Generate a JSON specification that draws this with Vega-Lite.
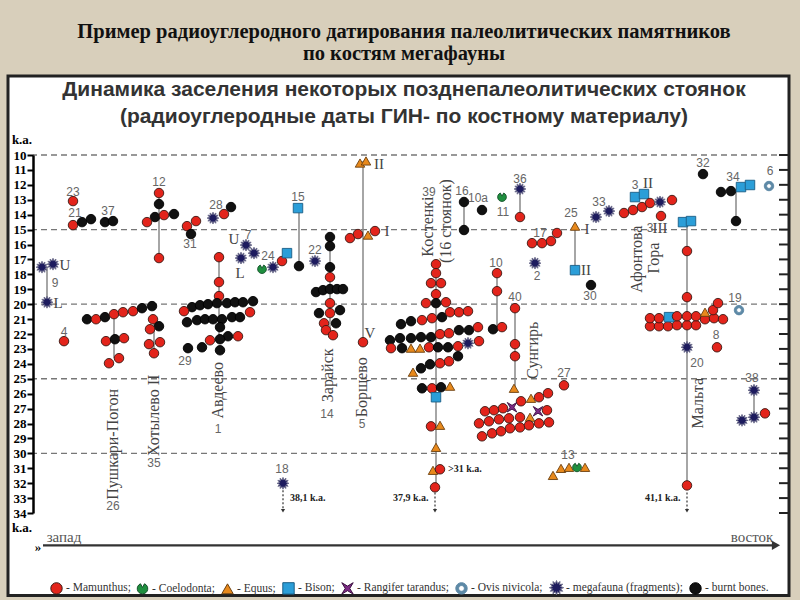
{
"$schema":"https://vega.github.io/schema/vega-lite/v6.json",
"width":754,"height":358,
"autosize":"none",
"padding":{"left":33,"top":155,"right":13,"bottom":87},
"background":"#d8cfbb",
"config":{"view":{"stroke":null}},
"title":{
"text":["Пример радиоуглеродного датирования палеолитических памятников","по костям мегафауны"],
"subtitle":["Динамика заселения некоторых позднепалеолитических стоянок","(радиоуглеродные даты ГИН- по костному материалу)"],
"anchor":"middle","orient":"top","dx":-6,
"font":"Liberation Serif","fontSize":20.5,"fontWeight":"bold","color":"#111","lineHeight":22,
"subtitleFont":"Liberation Sans","subtitleFontSize":21,"subtitleFontWeight":"bold","subtitleColor":"#333","subtitleLineHeight":27,"subtitlePadding":15,
"offset":-53
},
"datasets":{
"panel":[{"pos":8,"pos2":789,"ka":4.70,"ka2":39.53}],
"levels":[{"ka":10},{"ka":15},{"ka":20},{"ka":25},{"ka":30}],
"scaleticks":[{"ka":10},{"ka":11},{"ka":12},{"ka":13},{"ka":14},{"ka":15},{"ka":16},{"ka":17},{"ka":18},{"ka":19},{"ka":20},{"ka":21},{"ka":22},{"ka":23},{"ka":24},{"ka":25},{"ka":26},{"ka":27},{"ka":28},{"ka":29},{"ka":30},{"ka":31},{"ka":32},{"ka":33},{"ka":34}],
"links":[
{"pos":47,"ka":17.52,"ka2":19.87},{"pos":159,"ka":12.55,"ka2":16.91},{"pos":114,"ka":20.67,"ka2":23.62},
{"pos":154,"ka":21.01,"ka2":23.29},{"pos":219,"ka":16.85,"ka2":22.42},{"pos":299,"ka":13.56,"ka2":17.45},
{"pos":330,"ka":15.50,"ka2":22.08},{"pos":363,"ka":10.40,"ka2":22.55},{"pos":464,"ka":13.15,"ka2":15.03},
{"pos":520,"ka":12.28,"ka2":14.16},{"pos":575,"ka":14.77,"ka2":17.72},{"pos":436,"ka":17.32,"ka2":32.28},
{"pos":497,"ka":17.92,"ka2":21.54},{"pos":515,"ka":20.27,"ka2":25.64},{"pos":687,"ka":14.43,"ka2":32.15},
{"pos":736,"ka":12.42,"ka2":14.43},{"pos":754,"ka":25.77,"ka2":27.58}],
"older":[{"pos":283,"ka":32.48,"ka2":33.85},{"pos":435,"ka":32.62,"ka2":33.85},{"pos":687,"ka":32.62,"ka2":33.85}],
"axisline":[{"pos":43,"pos2":776,"ka":36.17}],
"points":[
{"pos":42,"ka":17.52,"taxon":"megafauna (fragments)"},{"pos":53,"ka":17.32,"taxon":"megafauna (fragments)"},{"pos":47,"ka":19.87,"taxon":"megafauna (fragments)"},
{"pos":73,"ka":13.09,"taxon":"Mamunthus"},
{"pos":73,"ka":14.70,"taxon":"Mamunthus"},{"pos":82,"ka":14.50,"taxon":"burnt bones"},{"pos":91,"ka":14.30,"taxon":"burnt bones"},
{"pos":105,"ka":14.50,"taxon":"burnt bones"},{"pos":113,"ka":14.43,"taxon":"burnt bones"},
{"pos":159,"ka":12.55,"taxon":"Mamunthus"},{"pos":159,"ka":13.29,"taxon":"burnt bones"},{"pos":155,"ka":14.16,"taxon":"burnt bones"},{"pos":147,"ka":14.50,"taxon":"Mamunthus"},{"pos":164,"ka":14.03,"taxon":"Mamunthus"},{"pos":174,"ka":13.96,"taxon":"burnt bones"},{"pos":159,"ka":16.91,"taxon":"Mamunthus"},
{"pos":187,"ka":14.77,"taxon":"Mamunthus"},{"pos":196,"ka":14.43,"taxon":"Mamunthus"},{"pos":191,"ka":15.30,"taxon":"burnt bones"},
{"pos":213,"ka":14.23,"taxon":"megafauna (fragments)"},{"pos":224,"ka":13.96,"taxon":"Mamunthus"},{"pos":231,"ka":13.49,"taxon":"burnt bones"},
{"pos":246,"ka":16.04,"taxon":"megafauna (fragments)"},{"pos":254,"ka":16.58,"taxon":"megafauna (fragments)"},{"pos":241,"ka":16.91,"taxon":"megafauna (fragments)"},
{"pos":262,"ka":17.65,"taxon":"Coelodonta"},{"pos":273,"ka":17.52,"taxon":"megafauna (fragments)"},{"pos":282,"ka":17.11,"taxon":"Mamunthus"},{"pos":287,"ka":16.58,"taxon":"Bison"},
{"pos":298,"ka":13.56,"taxon":"Bison"},{"pos":299,"ka":17.45,"taxon":"burnt bones"},
{"pos":315,"ka":17.11,"taxon":"megafauna (fragments)"},
{"pos":330,"ka":15.50,"taxon":"burnt bones"},{"pos":330,"ka":16.11,"taxon":"burnt bones"},{"pos":330,"ka":17.52,"taxon":"burnt bones"},{"pos":330,"ka":18.19,"taxon":"Mamunthus"},
{"pos":316,"ka":19.19,"taxon":"burnt bones"},{"pos":323,"ka":19.06,"taxon":"burnt bones"},{"pos":330,"ka":18.99,"taxon":"burnt bones"},{"pos":337,"ka":18.99,"taxon":"burnt bones"},{"pos":343,"ka":18.99,"taxon":"burnt bones"},
{"pos":330,"ka":19.93,"taxon":"Mamunthus"},{"pos":319,"ka":20.60,"taxon":"burnt bones"},{"pos":330,"ka":20.60,"taxon":"Mamunthus"},{"pos":340,"ka":20.40,"taxon":"burnt bones"},
{"pos":324,"ka":21.28,"taxon":"Mamunthus"},{"pos":336,"ka":21.28,"taxon":"burnt bones"},{"pos":326,"ka":21.74,"taxon":"Mamunthus"},{"pos":333,"ka":22.08,"taxon":"Mamunthus"},
{"pos":360,"ka":10.54,"taxon":"Equus"},{"pos":366,"ka":10.40,"taxon":"Equus"},{"pos":350,"ka":15.57,"taxon":"Mamunthus"},{"pos":358,"ka":15.30,"taxon":"Mamunthus"},{"pos":368,"ka":15.37,"taxon":"Equus"},{"pos":375,"ka":15.10,"taxon":"Mamunthus"},{"pos":363,"ka":22.55,"taxon":"Mamunthus"},
{"pos":283,"ka":32.01,"taxon":"megafauna (fragments)"},
{"pos":87,"ka":21.01,"taxon":"burnt bones"},{"pos":96,"ka":21.01,"taxon":"Mamunthus"},{"pos":105,"ka":20.87,"taxon":"burnt bones"},{"pos":114,"ka":20.67,"taxon":"Mamunthus"},{"pos":123,"ka":20.54,"taxon":"Mamunthus"},{"pos":133,"ka":20.47,"taxon":"Mamunthus"},{"pos":142,"ka":20.27,"taxon":"burnt bones"},{"pos":152,"ka":20.13,"taxon":"burnt bones"},
{"pos":106,"ka":22.48,"taxon":"Mamunthus"},{"pos":115,"ka":22.35,"taxon":"burnt bones"},{"pos":124,"ka":22.28,"taxon":"Mamunthus"},{"pos":109,"ka":23.96,"taxon":"Mamunthus"},{"pos":119,"ka":23.62,"taxon":"Mamunthus"},
{"pos":64,"ka":22.48,"taxon":"Mamunthus"},
{"pos":153,"ka":21.01,"taxon":"Mamunthus"},{"pos":159,"ka":21.48,"taxon":"burnt bones"},{"pos":150,"ka":21.68,"taxon":"Mamunthus"},{"pos":149,"ka":22.68,"taxon":"Mamunthus"},{"pos":160,"ka":22.55,"taxon":"Mamunthus"},{"pos":154,"ka":23.29,"taxon":"Mamunthus"},
{"pos":219,"ka":16.85,"taxon":"Mamunthus"},{"pos":219,"ka":18.52,"taxon":"Mamunthus"},{"pos":219,"ka":19.46,"taxon":"Mamunthus"},
{"pos":192,"ka":20.20,"taxon":"burnt bones"},{"pos":200,"ka":20.07,"taxon":"burnt bones"},{"pos":208,"ka":20.00,"taxon":"burnt bones"},{"pos":217,"ka":19.93,"taxon":"burnt bones"},{"pos":227,"ka":19.93,"taxon":"burnt bones"},{"pos":235,"ka":19.87,"taxon":"burnt bones"},{"pos":243,"ka":19.87,"taxon":"burnt bones"},{"pos":253,"ka":19.80,"taxon":"burnt bones"},
{"pos":184,"ka":20.47,"taxon":"Mamunthus"},{"pos":250,"ka":20.54,"taxon":"Mamunthus"},
{"pos":187,"ka":21.21,"taxon":"burnt bones"},{"pos":197,"ka":21.07,"taxon":"burnt bones"},{"pos":205,"ka":21.01,"taxon":"burnt bones"},{"pos":213,"ka":21.01,"taxon":"burnt bones"},{"pos":222,"ka":21.01,"taxon":"burnt bones"},{"pos":232,"ka":20.87,"taxon":"burnt bones"},{"pos":240,"ka":20.87,"taxon":"burnt bones"},
{"pos":220,"ka":21.54,"taxon":"burnt bones"},{"pos":228,"ka":22.15,"taxon":"burnt bones"},{"pos":238,"ka":22.15,"taxon":"Mamunthus"},{"pos":210,"ka":22.42,"taxon":"Mamunthus"},{"pos":220,"ka":22.35,"taxon":"burnt bones"},{"pos":202,"ka":22.89,"taxon":"burnt bones"},{"pos":220,"ka":23.09,"taxon":"burnt bones"},{"pos":188,"ka":22.95,"taxon":"burnt bones"},
{"pos":436,"ka":17.32,"taxon":"Mamunthus"},{"pos":436,"ka":17.92,"taxon":"Mamunthus"},{"pos":431,"ka":18.59,"taxon":"Mamunthus"},{"pos":441,"ka":18.59,"taxon":"Mamunthus"},{"pos":436,"ka":19.33,"taxon":"Mamunthus"},{"pos":426,"ka":19.93,"taxon":"Mamunthus"},{"pos":436,"ka":19.93,"taxon":"burnt bones"},{"pos":446,"ka":19.87,"taxon":"Mamunthus"},
{"pos":401,"ka":21.34,"taxon":"burnt bones"},{"pos":411,"ka":21.14,"taxon":"burnt bones"},{"pos":422,"ka":21.07,"taxon":"Mamunthus"},{"pos":432,"ka":20.94,"taxon":"Mamunthus"},{"pos":442,"ka":20.87,"taxon":"burnt bones"},{"pos":450,"ka":20.54,"taxon":"Mamunthus"},{"pos":459,"ka":20.54,"taxon":"Mamunthus"},{"pos":468,"ka":20.47,"taxon":"Mamunthus"},
{"pos":390,"ka":22.42,"taxon":"burnt bones"},{"pos":400,"ka":22.28,"taxon":"burnt bones"},{"pos":411,"ka":22.28,"taxon":"burnt bones"},{"pos":421,"ka":22.21,"taxon":"burnt bones"},{"pos":431,"ka":22.21,"taxon":"burnt bones"},{"pos":440,"ka":22.01,"taxon":"Mamunthus"},{"pos":449,"ka":21.95,"taxon":"Mamunthus"},{"pos":459,"ka":21.74,"taxon":"burnt bones"},{"pos":469,"ka":21.74,"taxon":"burnt bones"},{"pos":478,"ka":21.54,"taxon":"Mamunthus"},
{"pos":391,"ka":22.95,"taxon":"Mamunthus"},{"pos":402,"ka":22.95,"taxon":"burnt bones"},{"pos":411,"ka":22.95,"taxon":"Equus"},{"pos":420,"ka":22.95,"taxon":"Equus"},{"pos":429,"ka":22.89,"taxon":"Mamunthus"},{"pos":438,"ka":22.89,"taxon":"burnt bones"},{"pos":448,"ka":22.89,"taxon":"burnt bones"},{"pos":458,"ka":22.82,"taxon":"Mamunthus"},{"pos":468,"ka":22.62,"taxon":"megafauna (fragments)"},{"pos":479,"ka":22.48,"taxon":"Mamunthus"},
{"pos":458,"ka":23.49,"taxon":"burnt bones"},{"pos":449,"ka":23.83,"taxon":"Mamunthus"},{"pos":440,"ka":23.96,"taxon":"Mamunthus"},{"pos":430,"ka":24.03,"taxon":"burnt bones"},{"pos":421,"ka":24.30,"taxon":"burnt bones"},{"pos":413,"ka":24.56,"taxon":"Equus"},
{"pos":422,"ka":25.64,"taxon":"burnt bones"},{"pos":432,"ka":25.64,"taxon":"Mamunthus"},{"pos":441,"ka":25.57,"taxon":"burnt bones"},{"pos":450,"ka":25.50,"taxon":"Equus"},
{"pos":436,"ka":26.24,"taxon":"Bison"},
{"pos":431,"ka":28.19,"taxon":"Mamunthus"},{"pos":440,"ka":28.12,"taxon":"Equus"},{"pos":436,"ka":29.60,"taxon":"Equus"},{"pos":433,"ka":31.14,"taxon":"Equus"},{"pos":440,"ka":31.07,"taxon":"Mamunthus"},{"pos":435,"ka":32.28,"taxon":"Mamunthus"},
{"pos":464,"ka":13.15,"taxon":"burnt bones"},{"pos":464,"ka":15.03,"taxon":"burnt bones"},
{"pos":482,"ka":13.69,"taxon":"burnt bones"},
{"pos":502,"ka":12.82,"taxon":"Coelodonta"},
{"pos":520,"ka":12.28,"taxon":"megafauna (fragments)"},{"pos":520,"ka":14.16,"taxon":"Mamunthus"},
{"pos":532,"ka":15.91,"taxon":"Mamunthus"},{"pos":542,"ka":15.91,"taxon":"Mamunthus"},{"pos":551,"ka":15.77,"taxon":"Mamunthus"},{"pos":557,"ka":15.23,"taxon":"Mamunthus"},
{"pos":535,"ka":17.25,"taxon":"megafauna (fragments)"},
{"pos":575,"ka":14.77,"taxon":"Equus"},{"pos":575,"ka":17.72,"taxon":"Bison"},
{"pos":497,"ka":17.92,"taxon":"Mamunthus"},{"pos":497,"ka":19.13,"taxon":"Mamunthus"},{"pos":493,"ka":21.68,"taxon":"burnt bones"},{"pos":502,"ka":21.54,"taxon":"Mamunthus"},
{"pos":515,"ka":20.27,"taxon":"Mamunthus"},{"pos":515,"ka":22.68,"taxon":"Mamunthus"},{"pos":515,"ka":23.49,"taxon":"Mamunthus"},{"pos":514,"ka":25.64,"taxon":"Equus"},
{"pos":521,"ka":26.51,"taxon":"Mamunthus"},{"pos":531,"ka":26.31,"taxon":"Equus"},{"pos":539,"ka":26.24,"taxon":"Mamunthus"},{"pos":548,"ka":25.97,"taxon":"Mamunthus"},
{"pos":485,"ka":27.18,"taxon":"Mamunthus"},{"pos":494,"ka":27.11,"taxon":"Mamunthus"},{"pos":503,"ka":26.98,"taxon":"Mamunthus"},{"pos":512,"ka":26.91,"taxon":"Rangifer tarandus"},{"pos":538,"ka":27.18,"taxon":"Rangifer tarandus"},{"pos":547,"ka":27.11,"taxon":"Mamunthus"},
{"pos":479,"ka":27.99,"taxon":"Mamunthus"},{"pos":489,"ka":27.85,"taxon":"Mamunthus"},{"pos":499,"ka":27.72,"taxon":"Mamunthus"},{"pos":509,"ka":27.65,"taxon":"Mamunthus"},{"pos":520,"ka":27.58,"taxon":"Mamunthus"},{"pos":530,"ka":27.58,"taxon":"Equus"},
{"pos":482,"ka":28.86,"taxon":"Mamunthus"},{"pos":492,"ka":28.66,"taxon":"Mamunthus"},{"pos":501,"ka":28.52,"taxon":"Mamunthus"},{"pos":510,"ka":28.32,"taxon":"Mamunthus"},{"pos":520,"ka":28.26,"taxon":"Mamunthus"},{"pos":529,"ka":28.12,"taxon":"Mamunthus"},{"pos":539,"ka":27.99,"taxon":"Mamunthus"},{"pos":549,"ka":27.92,"taxon":"Mamunthus"},
{"pos":564,"ka":25.44,"taxon":"Mamunthus"},
{"pos":553,"ka":31.48,"taxon":"Equus"},{"pos":561,"ka":31.01,"taxon":"Equus"},{"pos":569,"ka":30.94,"taxon":"Equus"},{"pos":577,"ka":30.94,"taxon":"Coelodonta"},{"pos":585,"ka":30.94,"taxon":"Equus"},
{"pos":596,"ka":14.16,"taxon":"megafauna (fragments)"},{"pos":609,"ka":13.76,"taxon":"megafauna (fragments)"},
{"pos":635,"ka":12.82,"taxon":"Bison"},{"pos":644,"ka":12.62,"taxon":"Bison"},{"pos":624,"ka":13.89,"taxon":"Mamunthus"},{"pos":633,"ka":13.69,"taxon":"Mamunthus"},{"pos":642,"ka":13.49,"taxon":"Mamunthus"},{"pos":650,"ka":13.22,"taxon":"Mamunthus"},{"pos":660,"ka":13.15,"taxon":"megafauna (fragments)"},{"pos":672,"ka":13.02,"taxon":"Mamunthus"},{"pos":661,"ka":14.09,"taxon":"Mamunthus"},
{"pos":591,"ka":18.72,"taxon":"burnt bones"},
{"pos":683,"ka":14.50,"taxon":"Bison"},{"pos":691,"ka":14.43,"taxon":"Bison"},{"pos":687,"ka":16.44,"taxon":"Mamunthus"},{"pos":687,"ka":19.53,"taxon":"Mamunthus"},
{"pos":650,"ka":21.48,"taxon":"Mamunthus"},{"pos":659,"ka":21.48,"taxon":"Mamunthus"},{"pos":668,"ka":21.48,"taxon":"Mamunthus"},{"pos":677,"ka":21.41,"taxon":"Mamunthus"},{"pos":687,"ka":21.41,"taxon":"Mamunthus"},{"pos":696,"ka":21.41,"taxon":"Mamunthus"},
{"pos":650,"ka":20.94,"taxon":"Mamunthus"},{"pos":659,"ka":20.94,"taxon":"Mamunthus"},{"pos":669,"ka":20.87,"taxon":"Bison"},{"pos":677,"ka":20.81,"taxon":"Mamunthus"},{"pos":687,"ka":20.81,"taxon":"Mamunthus"},{"pos":696,"ka":20.81,"taxon":"Mamunthus"},{"pos":705,"ka":21.01,"taxon":"Mamunthus"},{"pos":714,"ka":20.94,"taxon":"Mamunthus"},{"pos":723,"ka":21.01,"taxon":"Mamunthus"},
{"pos":705,"ka":20.54,"taxon":"Equus"},{"pos":713,"ka":20.40,"taxon":"Mamunthus"},{"pos":718,"ka":19.93,"taxon":"Mamunthus"},
{"pos":687,"ka":22.89,"taxon":"megafauna (fragments)"},{"pos":687,"ka":32.15,"taxon":"Mamunthus"},
{"pos":717,"ka":22.89,"taxon":"Mamunthus"},
{"pos":703,"ka":11.28,"taxon":"burnt bones"},
{"pos":721,"ka":12.48,"taxon":"burnt bones"},{"pos":731,"ka":12.42,"taxon":"burnt bones"},{"pos":741,"ka":12.15,"taxon":"Bison"},{"pos":750,"ka":12.01,"taxon":"Bison"},{"pos":736,"ka":14.43,"taxon":"burnt bones"},
{"pos":769,"ka":12.08,"taxon":"Ovis nivicola"},
{"pos":739,"ka":20.40,"taxon":"Ovis nivicola"},
{"pos":754,"ka":25.77,"taxon":"megafauna (fragments)"},{"pos":754,"ka":27.58,"taxon":"megafauna (fragments)"},{"pos":742,"ka":27.79,"taxon":"megafauna (fragments)"},{"pos":765,"ka":27.32,"taxon":"Mamunthus"}
],
"labels":[
{"kind":"num","pos":73,"ka":12.48,"text":"23"},{"kind":"num","pos":75,"ka":13.89,"text":"21"},{"kind":"num","pos":108,"ka":13.76,"text":"37"},
{"kind":"num","pos":55,"ka":18.59,"text":"9"},{"kind":"num","pos":159,"ka":11.81,"text":"12"},{"kind":"num","pos":190,"ka":15.97,"text":"31"},
{"kind":"num","pos":64,"ka":21.88,"text":"4"},{"kind":"num","pos":216,"ka":13.36,"text":"28"},{"kind":"num","pos":248,"ka":15.37,"text":"7"},
{"kind":"num","pos":268,"ka":16.78,"text":"24"},{"kind":"num","pos":298,"ka":12.82,"text":"15"},{"kind":"num","pos":315,"ka":16.38,"text":"22"},
{"kind":"num","pos":185,"ka":23.83,"text":"29"},{"kind":"num","pos":113,"ka":33.56,"text":"26"},{"kind":"num","pos":154,"ka":30.67,"text":"35"},
{"kind":"num","pos":218,"ka":28.39,"text":"1"},{"kind":"num","pos":327,"ka":27.38,"text":"14"},{"kind":"num","pos":362,"ka":28.05,"text":"5"},
{"kind":"num","pos":282,"ka":31.07,"text":"18"},{"kind":"num","pos":429,"ka":12.48,"text":"39"},{"kind":"num","pos":462,"ka":12.42,"text":"16"},
{"kind":"num","pos":478,"ka":12.89,"text":"10a"},{"kind":"num","pos":503,"ka":13.83,"text":"11"},{"kind":"num","pos":520,"ka":11.61,"text":"36"},
{"kind":"num","pos":540,"ka":15.23,"text":"17"},{"kind":"num","pos":537,"ka":18.12,"text":"2"},{"kind":"num","pos":571,"ka":13.89,"text":"25"},
{"kind":"num","pos":496,"ka":17.25,"text":"10"},{"kind":"num","pos":515,"ka":19.53,"text":"40"},{"kind":"num","pos":564,"ka":24.63,"text":"27"},
{"kind":"num","pos":568,"ka":30.13,"text":"13"},{"kind":"num","pos":599,"ka":13.15,"text":"33"},{"kind":"num","pos":590,"ka":19.46,"text":"30"},
{"kind":"num","pos":703,"ka":10.54,"text":"32"},{"kind":"num","pos":733,"ka":11.48,"text":"34"},{"kind":"num","pos":770,"ka":11.07,"text":"6"},
{"kind":"num","pos":735,"ka":19.60,"text":"19"},{"kind":"num","pos":697,"ka":23.96,"text":"20"},{"kind":"num","pos":716,"ka":22.08,"text":"8"},
{"kind":"num","pos":752,"ka":24.97,"text":"38"},{"kind":"num","pos":635,"ka":12.01,"text":"3"},{"kind":"num","pos":650,"ka":14.90,"text":"3"},
{"kind":"rom","pos":65,"ka":17.38,"text":"U"},{"kind":"rom","pos":58,"ka":19.93,"text":"L"},
{"kind":"rom","pos":234,"ka":15.64,"text":"U"},{"kind":"rom","pos":240,"ka":17.92,"text":"L"},
{"kind":"rom","pos":379,"ka":10.60,"text":"II"},{"kind":"rom","pos":387,"ka":15.10,"text":"I"},{"kind":"rom","pos":370,"ka":21.95,"text":"V"},
{"kind":"rom","pos":587,"ka":14.97,"text":"I"},{"kind":"rom","pos":586,"ka":17.72,"text":"II"},
{"kind":"rom","pos":648,"ka":11.88,"text":"II"},{"kind":"rom","pos":660,"ka":14.90,"text":"III"},
{"kind":"name","pos":113,"ka":29.40,"text":"Пушкари-Погон"},{"kind":"name","pos":154,"ka":27.45,"text":"Хотылево II"},
{"kind":"name","pos":218,"ka":25.77,"text":"Авдеево"},{"kind":"name","pos":328,"ka":24.77,"text":"Зарайск"},
{"kind":"name","pos":362,"ka":25.57,"text":"Борщево"},{"kind":"name","pos":428,"ka":14.80,"text":"Костенкі"},
{"kind":"name","pos":446,"ka":14.43,"text":"(16 стоянок)"},{"kind":"name","pos":533,"ka":23.09,"text":"Сунгирь"},
{"kind":"name","pos":637,"ka":16.98,"text":"Афонтова"},{"kind":"name","pos":654,"ka":16.91,"text":"Гора"},
{"kind":"name","pos":698,"ka":26.64,"text":"Мальта"},
{"kind":"note","pos":290,"ka":33.02,"text":"38,1 k.a."},{"kind":"note","pos":448,"ka":31.07,"text":">31 k.a."},
{"kind":"note","pos":393,"ka":33.02,"text":"37,9 k.a."},{"kind":"note","pos":645,"ka":33.02,"text":"41,1 k.a."},
{"kind":"ka","pos":22,"ka":9.02,"text":"k.a."},{"kind":"ka","pos":22,"ka":35.0,"text":"k.a."},{"kind":"ka","pos":38,"ka":36.31,"text":"»"},
{"kind":"dir","pos":64,"ka":35.64,"text":"запад"},{"kind":"dir","pos":752,"ka":35.64,"text":"восток"}
]
},
"resolve":{"scale":{"y":"independent"},"axis":{"y":"independent"}},
"layer":[
{"data":{"name":"panel"},"mark":{"type":"rect","fill":"white","stroke":"#222","strokeWidth":3},
 "encoding":{"x":{"field":"pos","type":"quantitative","scale":{"domain":[33,787],"nice":false,"zero":false},"axis":null},"x2":{"field":"pos2"},
 "y":{"field":"ka","type":"quantitative","scale":{"domain":[10,34],"reverse":true,"nice":false,"zero":false},"axis":null},"y2":{"field":"ka2"}}},
{"data":{"name":"levels"},"mark":{"type":"rule","color":"#777","strokeWidth":1.3,"strokeDash":[6,4]},
 "encoding":{"y":{"field":"ka","type":"quantitative","scale":{"domain":[10,34],"reverse":true,"nice":false,"zero":false},
 "axis":{"orient":"left","zindex":2,"values":[10,11,12,13,14,15,16,17,18,19,20,21,22,23,24,25,26,27,28,29,30,31,32,33,34],"title":null,"grid":false,
 "labelFont":"Liberation Serif","labelFontWeight":"bold","labelFontSize":13,"labelColor":"#000","labelPadding":1,
 "tickColor":"#000","tickWidth":2,"tickSize":6,"domainColor":"#000","domainWidth":2.5}}}},
{"data":{"name":"scaleticks"},"mark":{"type":"rule","color":"#222","strokeWidth":2},
 "encoding":{"x":{"datum":779,"type":"quantitative","scale":{"domain":[33,787],"nice":false,"zero":false},"axis":null},"x2":{"datum":788},
 "y":{"field":"ka","type":"quantitative","scale":{"domain":[10,34],"reverse":true,"nice":false,"zero":false},"axis":null}}},
{"data":{"name":"links"},"mark":{"type":"rule","color":"#888","strokeWidth":1.5},
 "encoding":{"x":{"field":"pos","type":"quantitative","scale":{"domain":[33,787],"nice":false,"zero":false},"axis":null},
 "y":{"field":"ka","type":"quantitative","scale":{"domain":[10,34],"reverse":true,"nice":false,"zero":false},"axis":null},"y2":{"field":"ka2"}}},
{"data":{"name":"older"},"mark":{"type":"rule","color":"#333","strokeWidth":1.2,"strokeDash":[2,2]},
 "encoding":{"x":{"field":"pos","type":"quantitative","scale":{"domain":[33,787],"nice":false,"zero":false},"axis":null},
 "y":{"field":"ka","type":"quantitative","scale":{"domain":[10,34],"reverse":true,"nice":false,"zero":false},"axis":null},"y2":{"field":"ka2"}}},
{"data":{"name":"older"},"mark":{"type":"point","shape":"triangle-down","filled":true,"color":"#333","size":18,"opacity":1},
 "encoding":{"x":{"field":"pos","type":"quantitative","scale":{"domain":[33,787],"nice":false,"zero":false},"axis":null},
 "y":{"field":"ka2","type":"quantitative","scale":{"domain":[10,34],"reverse":true,"nice":false,"zero":false},"axis":null}}},
{"data":{"name":"axisline"},"mark":{"type":"rule","color":"#333","strokeWidth":2.2},
 "encoding":{"x":{"field":"pos","type":"quantitative","scale":{"domain":[33,787],"nice":false,"zero":false},"axis":null},"x2":{"field":"pos2"},
 "y":{"field":"ka","type":"quantitative","scale":{"domain":[10,34],"reverse":true,"nice":false,"zero":false},"axis":null}}},
{"data":{"name":"axisline"},"mark":{"type":"point","shape":"triangle-right","filled":true,"color":"#333","size":90,"opacity":1},
 "encoding":{"x":{"field":"pos2","type":"quantitative","scale":{"domain":[33,787],"nice":false,"zero":false},"axis":null},
 "y":{"field":"ka","type":"quantitative","scale":{"domain":[10,34],"reverse":true,"nice":false,"zero":false},"axis":null}}},
{"data":{"name":"points"},"mark":{"type":"point","filled":true,"size":90,"strokeWidth":0.9,"opacity":1},
 "encoding":{"x":{"field":"pos","type":"quantitative","scale":{"domain":[33,787],"nice":false,"zero":false},"axis":null},
 "y":{"field":"ka","type":"quantitative","scale":{"domain":[10,34],"reverse":true,"nice":false,"zero":false},"axis":null},
 "fill":{"field":"taxon","type":"nominal",
  "scale":{"domain":["Mamunthus","Coelodonta","Equus","Bison","Rangifer tarandus","Ovis nivicola","megafauna (fragments)","burnt bones"],
   "range":["#e3241b","#1f8f3f","#e8891c","#2b9ed8","#7d2a85","#5d89a6","#1d1b5e","#111111"]},
  "legend":{"orient":"none","legendX":17,"legendY":426,"direction":"horizontal","columns":8,"title":null,"symbolSize":130,"symbolStrokeWidth":1,
   "labelFont":"Liberation Serif","labelFontSize":11.5,"labelColor":"#333","labelLimit":0,"labelOffset":3,"columnPadding":4,
   "labelExpr":"'- ' + datum.label + (datum.label == 'burnt bones' ? '.' : ';')"}},
 "shape":{"field":"taxon","type":"nominal",
  "scale":{"domain":["Mamunthus","Coelodonta","Equus","Bison","Rangifer tarandus","Ovis nivicola","megafauna (fragments)","burnt bones"],
   "range":["circle","M -0.35 -0.85 L 0 -0.2 L 0.35 -0.85 A 0.92 0.92 0 1 1 -0.35 -0.85 Z","triangle-up","square",
    "M -1 -1 L 0 -0.4 L 1 -1 L 0.4 0 L 1 1 L 0 0.4 L -1 1 L -0.4 0 Z",
    "M -1 0 A 1 1 0 1 1 1 0 A 1 1 0 1 1 -1 0 Z M -0.5 0 A 0.5 0.5 0 1 0 0.5 0 A 0.5 0.5 0 1 0 -0.5 0 Z",
    "M 1.25 0 L 0.72 0.19 L 1.08 0.63 L 0.53 0.53 L 0.63 1.08 L 0.19 0.72 L 0 1.25 L -0.19 0.72 L -0.63 1.08 L -0.53 0.53 L -1.08 0.63 L -0.72 0.19 L -1.25 0 L -0.72 -0.19 L -1.08 -0.63 L -0.53 -0.53 L -0.63 -1.08 L -0.19 -0.72 L 0 -1.25 L 0.19 -0.72 L 0.63 -1.08 L 0.53 -0.53 L 1.08 -0.63 L 0.72 -0.19 Z",
    "circle"]}},
 "stroke":{"field":"taxon","type":"nominal",
  "scale":{"domain":["Mamunthus","Coelodonta","Equus","Bison","Rangifer tarandus","Ovis nivicola","megafauna (fragments)","burnt bones"],
   "range":["#3a1a14","#14502a","#6b4010","#1b5e86","#3b1040","#5d89a6","#6b6b8a","#000000"]}}}},
{"data":{"name":"labels"},"transform":[{"filter":"datum.kind == 'num'"}],
 "mark":{"type":"text","font":"Liberation Sans","fontSize":12,"color":"#666","align":"center","baseline":"middle"},
 "encoding":{"x":{"field":"pos","type":"quantitative","scale":{"domain":[33,787],"nice":false,"zero":false},"axis":null},
 "y":{"field":"ka","type":"quantitative","scale":{"domain":[10,34],"reverse":true,"nice":false,"zero":false},"axis":null},"text":{"field":"text"}}},
{"data":{"name":"labels"},"transform":[{"filter":"datum.kind == 'rom'"}],
 "mark":{"type":"text","font":"Liberation Serif","fontSize":15,"color":"#444","align":"center","baseline":"middle"},
 "encoding":{"x":{"field":"pos","type":"quantitative","scale":{"domain":[33,787],"nice":false,"zero":false},"axis":null},
 "y":{"field":"ka","type":"quantitative","scale":{"domain":[10,34],"reverse":true,"nice":false,"zero":false},"axis":null},"text":{"field":"text"}}},
{"data":{"name":"labels"},"transform":[{"filter":"datum.kind == 'name'"}],
 "mark":{"type":"text","font":"Liberation Serif","fontSize":16,"color":"#444","align":"center","baseline":"middle","angle":270},
 "encoding":{"x":{"field":"pos","type":"quantitative","scale":{"domain":[33,787],"nice":false,"zero":false},"axis":null},
 "y":{"field":"ka","type":"quantitative","scale":{"domain":[10,34],"reverse":true,"nice":false,"zero":false},"axis":null},"text":{"field":"text"}}},
{"data":{"name":"labels"},"transform":[{"filter":"datum.kind == 'note'"}],
 "mark":{"type":"text","font":"Liberation Serif","fontSize":10,"fontWeight":"bold","color":"#222","align":"left","baseline":"middle"},
 "encoding":{"x":{"field":"pos","type":"quantitative","scale":{"domain":[33,787],"nice":false,"zero":false},"axis":null},
 "y":{"field":"ka","type":"quantitative","scale":{"domain":[10,34],"reverse":true,"nice":false,"zero":false},"axis":null},"text":{"field":"text"}}},
{"data":{"name":"labels"},"transform":[{"filter":"datum.kind == 'ka'"}],
 "mark":{"type":"text","font":"Liberation Serif","fontSize":13,"fontWeight":"bold","color":"#000","align":"center","baseline":"middle"},
 "encoding":{"x":{"field":"pos","type":"quantitative","scale":{"domain":[33,787],"nice":false,"zero":false},"axis":null},
 "y":{"field":"ka","type":"quantitative","scale":{"domain":[10,34],"reverse":true,"nice":false,"zero":false},"axis":null},"text":{"field":"text"}}},
{"data":{"name":"labels"},"transform":[{"filter":"datum.kind == 'dir'"}],
 "mark":{"type":"text","font":"Liberation Serif","fontSize":15,"color":"#555","align":"center","baseline":"middle"},
 "encoding":{"x":{"field":"pos","type":"quantitative","scale":{"domain":[33,787],"nice":false,"zero":false},"axis":null},
 "y":{"field":"ka","type":"quantitative","scale":{"domain":[10,34],"reverse":true,"nice":false,"zero":false},"axis":null},"text":{"field":"text"}}}
]
}
